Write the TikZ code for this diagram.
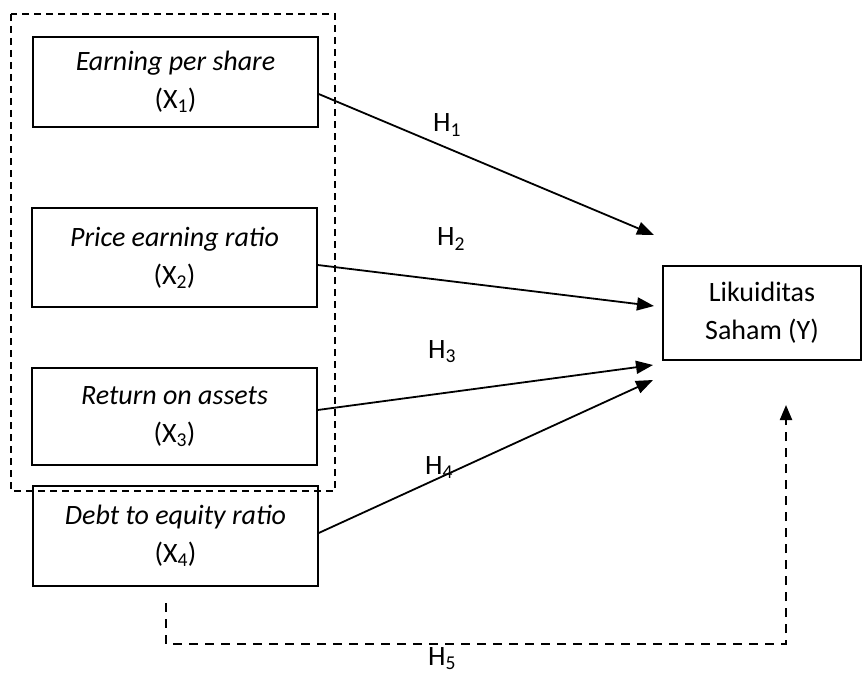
\documentclass[tikz,border=0pt]{standalone}
\usepackage{fontspec}
\setmainfont{Carlito}
\usetikzlibrary{arrows.meta,calc}
\begin{document}
\begin{tikzpicture}[x=1pt,y=-1pt,
  box/.style={draw,line width=1.4pt,inner sep=0pt,align=center,anchor=center,
    font=\fontsize{28}{38}\selectfont},
  arr/.style={line width=1.8pt,-{Triangle[length=17pt,width=13pt]}},
  grp/.style={line width=1.2pt,dash pattern=on 7pt off 5pt},
  hlab/.style={font=\fontsize{28}{32}\selectfont,inner sep=0pt}]
\useasboundingbox (0,0) rectangle (864,674);
\draw[grp] (11,14) rectangle (335,491);
\node[box,minimum width=285pt,minimum height=90pt] (b1) at (175.5,82) {\textit{Earning per share}\\(X\textsubscript{1})};
\node[box,minimum width=285pt,minimum height=99pt] (b2) at (174.5,257.5) {\textit{Price earning ratio}\\(X\textsubscript{2})};
\node[box,minimum width=285pt,minimum height=97pt] (b3) at (174.5,416.5) {\textit{Return on assets}\\(X\textsubscript{3})};
\node[box,minimum width=285pt,minimum height=100pt] (b4) at (175.5,536) {\textit{Debt to equity ratio}\\(X\textsubscript{4})};
\node[box,minimum width=198pt,minimum height=94pt] (y) at (762,313) {Likuiditas\\Saham (Y)};
\coordinate (t1) at (654,235);
\coordinate (t2) at (654,306);
\coordinate (t3) at (653,365);
\coordinate (t4) at (653,380);
\coordinate (t5) at (786,405);
\coordinate (s5) at (166,603);
\draw[arr] ($(b1.east)+(0,12)$) -- (t1);
\draw[arr] ($(b2.east)+(0,7.5)$) -- (t2);
\draw[arr] ($(b3.east)+(0,-6.5)$) -- (t3);
\draw[arr] ($(b4.east)+(0,-3)$) -- (t4);
\draw[line width=2.2pt,dash pattern=on 9pt off 7pt,-{Triangle[length=15pt,width=12pt]}] (s5) -- (s5 |- 0,644) -- (t5 |- 0,644) -- (t5);
\node[hlab] (h1) at (447,125) {H\textsubscript{1}};
\node[hlab] (h2) at (451,239) {H\textsubscript{2}};
\node[hlab] (h3) at (442,352) {H\textsubscript{3}};
\node[hlab] (h4) at (439,468) {H\textsubscript{4}};
\node[hlab] (h5) at (442,659) {H\textsubscript{5}};
\end{tikzpicture}
\end{document}
